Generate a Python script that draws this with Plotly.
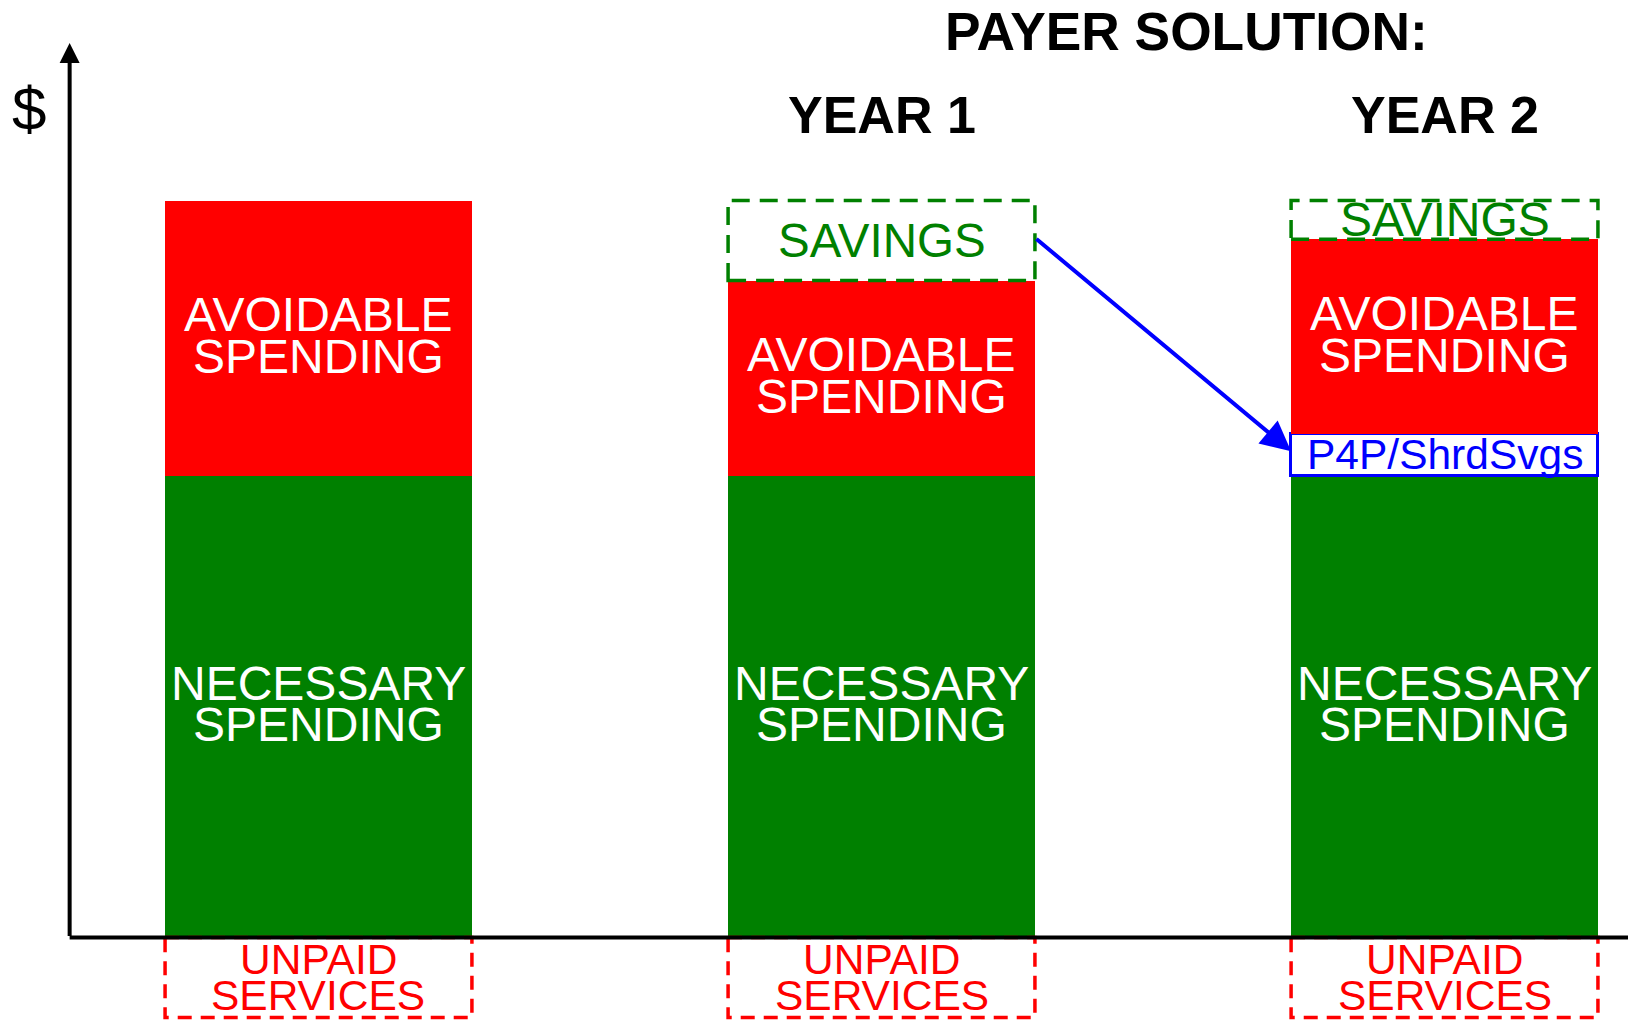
import plotly.graph_objects as go

# ---- data (arbitrary $ units) ----
categories = ["CURRENT", "YEAR 1", "YEAR 2"]
necessary = [100, 100, 100]
p4p = [None, None, 8.9]
avoidable = [59.5, 42.2, 42.2]
savings = [0, 17.3, 8.4]
unpaid = [-17.3, -17.3, -17.3]
header_labels = ["", "YEAR 1", "YEAR 2"]
main_title = "PAYER SOLUTION:"

x_pos = list(range(len(categories)))
BAR_W = 0.545

GREEN = "#008000"
RED = "#FF0000"
BLUE = "#0000FF"
FONT = "Liberation Sans, Arial, sans-serif"

fig = go.Figure()
fig.add_trace(go.Bar(x=x_pos, y=necessary, width=BAR_W, marker=dict(color=GREEN, line=dict(width=0)),
                     name="Necessary", hovertext=categories))
fig.add_trace(go.Bar(x=x_pos, y=p4p, width=BAR_W, marker=dict(color="white", line=dict(color=BLUE, width=3.5)),
                     name="P4P/ShrdSvgs", hovertext=categories))
fig.add_trace(go.Bar(x=x_pos, y=avoidable, width=BAR_W, marker=dict(color=RED, line=dict(width=0)),
                     name="Avoidable", hovertext=categories))

shapes = []
annotations = []

def label2(x, ymid, l1, l2, size, color, pitch, shift=0):
    annotations.append(dict(x=x, y=ymid, xref="x", yref="y", text=l1, showarrow=False,
                            yshift=pitch / 2 + shift, font=dict(family=FONT, size=size, color=color),
                            xanchor="center", yanchor="middle"))
    annotations.append(dict(x=x, y=ymid, xref="x", yref="y", text=l2, showarrow=False,
                            yshift=-pitch / 2 + shift, font=dict(family=FONT, size=size, color=color),
                            xanchor="center", yanchor="middle"))

for i, x in enumerate(x_pos):
    n = necessary[i]
    p = p4p[i] or 0
    a = avoidable[i]
    s = savings[i]
    top = n + p + a
    # necessary label
    label2(x, n / 2, "NECESSARY", "SPENDING", 48, "white", 41, shift=3)
    # avoidable label
    label2(x, n + p + a / 2, "AVOIDABLE", "SPENDING", 48, "white", 42, shift=2.5)
    # unpaid dashed box and label
    shapes.append(dict(type="rect", xref="x", yref="y", x0=x - BAR_W / 2, x1=x + BAR_W / 2,
                       y0=0, y1=unpaid[i], line=dict(color=RED, width=3.5, dash="14px,9px"),
                       fillcolor="rgba(0,0,0,0)", layer="above"))
    label2(x, unpaid[i] / 2, "UNPAID", "SERVICES", 42.5, RED, 36)
    # savings dashed box
    if s > 0:
        shapes.append(dict(type="rect", xref="x", yref="y", x0=x - BAR_W / 2, x1=x + BAR_W / 2,
                           y0=top, y1=top + s, line=dict(color=GREEN, width=3.5, dash="18px,10px"),
                           fillcolor="rgba(0,0,0,0)", layer="above"))
        annotations.append(dict(x=x, y=top + s / 2, xref="x", yref="y", text="SAVINGS", showarrow=False,
                                font=dict(family=FONT, size=47.5 if s > 12 else 48, color=GREEN),
                                xanchor="center", yanchor="middle"))
    if p > 0:
        annotations.append(dict(x=x, y=n + p / 2, xref="x", yref="y", text="P4P/ShrdSvgs", showarrow=False,
                                font=dict(family=FONT, size=42.5, color=BLUE),
                                xanchor="center", yanchor="middle"))
    if header_labels[i]:
        annotations.append(dict(x=x, y=0.8876, xref="x", yref="paper", text="<b>%s</b>" % header_labels[i],
                                showarrow=False, font=dict(family=FONT, size=52, color="black"),
                                xanchor="center", yanchor="middle"))

# title
annotations.append(dict(x=1.541, y=0.969, xref="x", yref="paper", text="<b>%s</b>" % main_title,
                        showarrow=False, font=dict(family=FONT, size=53.3, color="black"),
                        xanchor="center", yanchor="middle"))
# $ axis label
annotations.append(dict(x=0.0178, y=0.8936, xref="paper", yref="paper", text="$", showarrow=False,
                        font=dict(family=FONT, size=62, color="black"), xanchor="center", yanchor="middle"))

# y axis arrow
Y_AXIS_X = -0.442
annotations.append(dict(x=Y_AXIS_X, y=193.6, xref="x", yref="y", ax=Y_AXIS_X, ay=0, axref="x", ayref="y",
                        showarrow=True, arrowhead=2, arrowsize=1, arrowwidth=4, arrowcolor="black", text=""))
# x axis line
shapes.append(dict(type="line", xref="x", yref="y", x0=Y_AXIS_X, x1=2.3259, y0=0, y1=0,
                   line=dict(color="black", width=4), layer="above"))

# blue arrow: savings of year 1 -> P4P of year 2
annotations.append(dict(x=x_pos[2] - BAR_W / 2, y=necessary[2] + p4p[2] / 2 + 0.8, xref="x", yref="y",
                        ax=x_pos[1] + BAR_W / 2, ay=necessary[1] + avoidable[1] + savings[1] / 2 + 0.6,
                        axref="x", ayref="y", showarrow=True, arrowhead=2, arrowsize=1.5, arrowwidth=4,
                        arrowcolor=BLUE, text=""))

fig.update_layout(
    width=1628, height=1020,
    margin=dict(l=0, r=0, t=0, b=0),
    paper_bgcolor="white", plot_bgcolor="white",
    barmode="stack", bargap=0, showlegend=False,
    xaxis=dict(range=[-0.5657, 2.3259], visible=False, fixedrange=True),
    yaxis=dict(range=[-17.83, 202.9], visible=False, fixedrange=True),
    shapes=shapes, annotations=annotations,
)

fig.write_html("out.html", config={"displayModeBar": False},
               post_script="document.body.style.margin='0';document.body.style.overflow='hidden';")
